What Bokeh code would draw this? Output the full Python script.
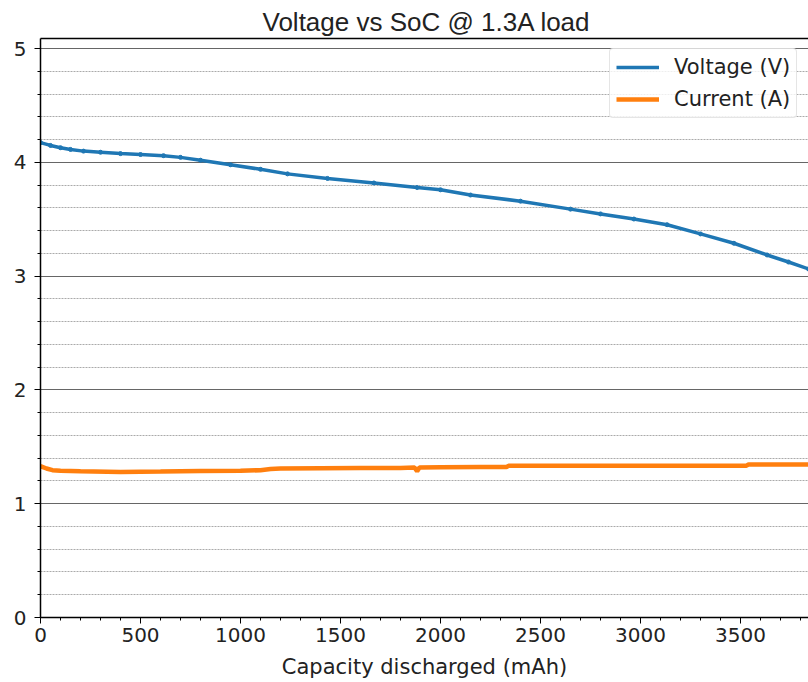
from bokeh.plotting import figure
from bokeh.models import (LinearAxis, FixedTicker, SingleIntervalTicker, Range1d,
                          Legend, LegendItem, Title)
from bokeh.embed import file_html
from bokeh.resources import INLINE

# ---- data ----
cap_v = [0, 50, 100, 150, 215, 300, 400, 500, 615, 700, 800, 950, 1100, 1235,
         1435, 1667, 1883, 2000, 2150, 2400, 2650, 2800, 2967, 3133, 3300, 3467,
         3633, 3740, 3840]
voltage = [4.175, 4.15, 4.13, 4.115, 4.10, 4.09, 4.078, 4.07, 4.06, 4.045, 4.02,
           3.98, 3.94, 3.90, 3.86, 3.82, 3.78, 3.76, 3.714, 3.66, 3.59, 3.548,
           3.503, 3.453, 3.372, 3.29, 3.187, 3.125, 3.064]

cap_i = [0, 30, 60, 100, 200, 400, 600, 800, 1000, 1100, 1150, 1200, 1400, 1600,
         1800, 1870, 1883, 1895, 2000, 2200, 2330, 2340, 2600, 2800, 3000, 3200,
         3400, 3530, 3540, 3700, 3840]
current = [1.33, 1.31, 1.295, 1.29, 1.285, 1.28, 1.283, 1.287, 1.29, 1.295, 1.305,
           1.31, 1.312, 1.314, 1.315, 1.318, 1.285, 1.318, 1.32, 1.322, 1.323,
           1.333, 1.333, 1.333, 1.334, 1.334, 1.334, 1.335, 1.345, 1.345, 1.345]

title_text = "Voltage vs SoC @ 1.3A load"
x_label = "Capacity discharged (mAh)"
x_range = (0, 3840)
y_range = (0, 5.09)

p = figure(width=808, height=682, output_backend="svg", toolbar_location=None,
           x_range=Range1d(*x_range), y_range=Range1d(*y_range),
           min_border_left=40, min_border_right=0, min_border_top=38,
           min_border_bottom=65)
p.outline_line_color = None
p.background_fill_color = "white"
p.border_fill_color = "white"

p.title = Title(text=title_text, align="left", offset=222, standoff=3,
                text_font="Liberation Sans", text_font_size="26px",
                text_font_style="normal", text_color="#222222")

# axes
for ax in (p.xaxis[0], p.yaxis[0]):
    ax.axis_line_color = "black"
    ax.axis_line_width = 1.5
    ax.major_tick_line_color = "black"
    ax.minor_tick_line_color = "black"
    ax.major_tick_in = 0
    ax.minor_tick_in = 0
    ax.major_tick_out = 6
    ax.minor_tick_out = 3
    ax.major_label_text_font = "DejaVu Sans"
    ax.major_label_text_font_size = "20px"
    ax.major_label_text_color = "#222222"

p.xaxis[0].ticker = SingleIntervalTicker(interval=500, num_minor_ticks=5)
p.yaxis[0].ticker = SingleIntervalTicker(interval=1, num_minor_ticks=5)
p.xaxis[0].major_label_standoff = 4
p.yaxis[0].major_label_standoff = 8
p.xaxis[0].axis_label = x_label
p.xaxis[0].axis_label_text_font = "DejaVu Sans"
p.xaxis[0].axis_label_text_font_size = "21px"
p.xaxis[0].axis_label_text_font_style = "normal"
p.xaxis[0].axis_label_text_color = "#222222"
p.xaxis[0].axis_label_standoff = 10

top = LinearAxis(ticker=FixedTicker(ticks=[]), major_label_text_font_size="0px",
                 axis_line_color="black", axis_line_width=1.5,
                 major_tick_line_color=None, minor_tick_line_color=None)
p.add_layout(top, "above")

# grids
p.xgrid.grid_line_color = None
p.ygrid.grid_line_color = "#666666"
p.ygrid.grid_line_width = 1
p.ygrid.minor_grid_line_color = "#aaaaaa"
p.ygrid.minor_grid_line_dash = "2 1"
p.ygrid.minor_grid_line_width = 1

# series
rv = p.line(cap_v, voltage, line_color="#1f77b4", line_width=3.5)
p.scatter(cap_v, voltage, size=4, fill_color="#1f77b4", line_color="#1f77b4")
ri = p.line(cap_i, current, line_color="#ff7f0e", line_width=4.5)

legend = Legend(items=[LegendItem(label="Voltage (V)", renderers=[rv]),
                       LegendItem(label="Current (A)", renderers=[ri])],
                location=(569, 499))
legend.margin = 0
legend.padding = 6
legend.spacing = 8
legend.glyph_width = 43
legend.glyph_height = 24
legend.label_height = 24
legend.label_standoff = 15
legend.label_text_font = "DejaVu Sans"
legend.label_text_font_size = "21px"
legend.label_text_color = "#222222"
legend.border_line_color = "#cccccc"
legend.border_line_width = 1
legend.border_radius = 4
legend.background_fill_alpha = 0.8
p.add_layout(legend)

open("out.html", "w").write(file_html(p, INLINE))
